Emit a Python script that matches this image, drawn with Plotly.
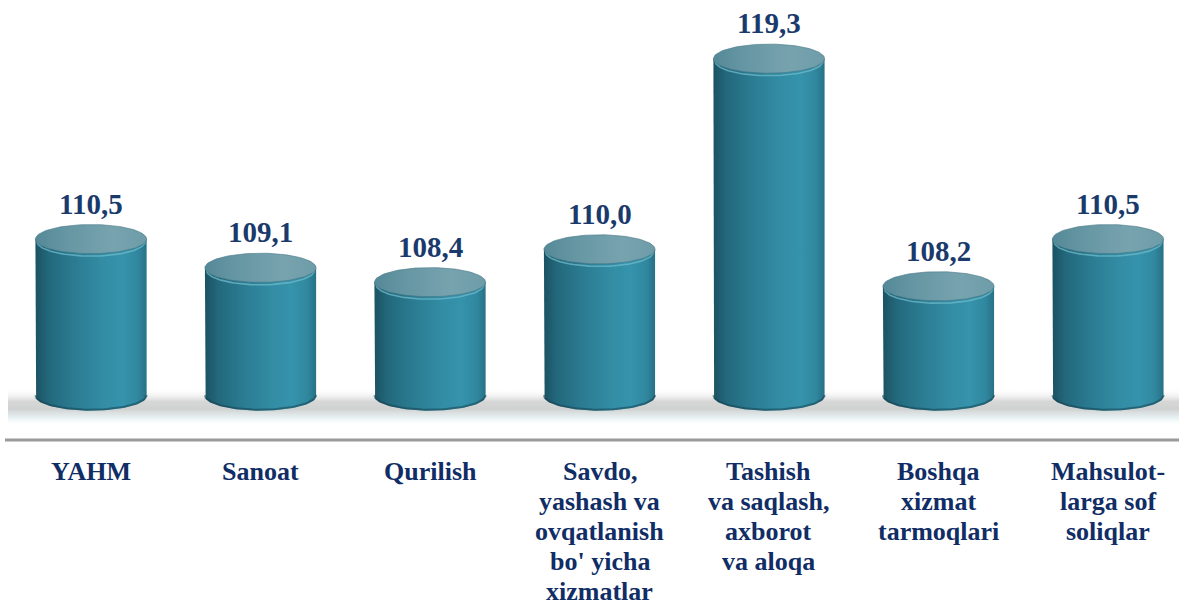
import numpy as np
import plotly.graph_objects as go

# ---------------- data ----------------
categories = [
    "YAHM",
    "Sanoat",
    "Qurilish",
    "Savdo,<br>yashash va<br>ovqatlanish<br>bo' yicha<br>xizmatlar",
    "Tashish<br>va saqlash,<br>axborot<br>va aloqa",
    "Boshqa<br>xizmat<br>tarmoqlari",
    "Mahsulot-<br>larga sof<br>soliqlar",
]
values = [110.5, 109.1, 108.4, 110.0, 119.3, 108.2, 110.5]
value_labels = ["110,5", "109,1", "108,4", "110,0", "119,3", "108,2", "110,5"]

# ---------------- geometry / style ----------------
W, H = 1179, 605
PLOT_H = 440
Y_RANGE = [100.7, 122.16]
X_RANGE = [-0.537, 6.419]
BASE = 102.84          # level of the cylinder bottoms
R = 0.328              # cylinder half width (x units)
HH = 0.71              # ellipse half height (y units)
PX_Y = PLOT_H / (Y_RANGE[1] - Y_RANGE[0])

FONT = "Liberation Serif"
NAVY = "#1a3a6c"
LABEL_NAVY = "#102d66"
LABEL_SIZE = 26
LINE_GAP = 30          # px between label lines
LABEL_TOP = 15         # px below the axis line to first line box top

body_scale = [
    [0.0, "#1b5263"], [0.12, "#23687c"], [0.35, "#2b7c92"],
    [0.6, "#328ca4"], [0.78, "#3593ab"], [0.92, "#30889f"], [1.0, "#287186"],
]
top_scale = [
    [0.0, "#558997"], [0.3, "#6797a4"], [0.7, "#77a3ae"], [1.0, "#6d9ca8"],
]

fig = go.Figure()

# floor shadow band
sh_top = BASE + 8 / PX_Y
sh_bot = BASE - 30 / PX_Y
fig.add_trace(go.Scatter(
    x=[-0.49, X_RANGE[1] + 0.1, X_RANGE[1] + 0.1, -0.49, -0.49],
    y=[sh_top, sh_top, sh_bot, sh_bot, sh_top],
    mode="lines", line=dict(width=0), fill="toself",
    fillgradient=dict(type="vertical", colorscale=[
        [0.0, "rgba(255,255,255,0)"], [0.2, "rgba(232,242,244,0.9)"],
        [0.45, "rgba(205,207,207,0.95)"], [0.65, "rgba(210,210,210,0.9)"],
        [1.0, "rgba(255,255,255,0)"]]),
    hoverinfo="skip", showlegend=False,
))

t_bot = np.linspace(np.pi, 2 * np.pi, 60)
t_full = np.linspace(0, 2 * np.pi, 120)

for i, v in enumerate(values):
    c = i
    # body
    bx = [c - R] + list(c + R * np.cos(t_bot)) + [c + R, c - R]
    by = [v] + list(BASE + HH * np.sin(t_bot)) + [v, v]
    fig.add_trace(go.Scatter(
        x=bx, y=by, mode="lines", line=dict(width=0), fill="toself",
        fillgradient=dict(type="horizontal", colorscale=body_scale),
        hoverinfo="skip", showlegend=False,
    ))
    # bottom rim
    fig.add_trace(go.Scatter(
        x=c + R * np.cos(t_bot), y=BASE + HH * np.sin(t_bot) + 1 / PX_Y,
        mode="lines", line=dict(width=2, color="rgba(22,66,80,0.55)"),
        hoverinfo="skip", showlegend=False,
    ))
    # rim highlight under top face
    fig.add_trace(go.Scatter(
        x=c + R * 0.97 * np.cos(t_bot), y=v + HH * np.sin(t_bot) - 2.5 / PX_Y,
        mode="lines", line=dict(width=1.6, color="rgba(110,185,202,0.75)"),
        hoverinfo="skip", showlegend=False,
    ))
    # top face
    fig.add_trace(go.Scatter(
        x=c + R * np.cos(t_full), y=v + HH * np.sin(t_full),
        mode="lines", line=dict(width=1, color="rgba(70,120,135,0.6)"),
        fill="toself",
        fillgradient=dict(type="horizontal", colorscale=top_scale),
        hoverinfo="skip", showlegend=False,
    ))
    fig.add_annotation(
        x=c, y=v + HH, text=value_labels[i], showarrow=False,
        yanchor="bottom", yshift=3,
        font=dict(family=FONT, size=29, color=NAVY, weight="bold"),
    )
    # category label, one annotation per line
    for k, line in enumerate(categories[i].split("<br>")):
        fig.add_annotation(
            x=c, xref="x", y=0, yref="paper", yanchor="top",
            yshift=-(LABEL_TOP + k * LINE_GAP), text=line, showarrow=False,
            font=dict(family=FONT, size=LABEL_SIZE, color=LABEL_NAVY, weight="bold"),
        )

fig.add_shape(type="line", xref="paper", yref="paper",
              x0=5 / W, x1=1, y0=0, y1=0,
              line=dict(color="#9a9a9a", width=3))

fig.update_layout(
    width=W, height=H,
    margin=dict(l=0, r=0, t=0, b=H - PLOT_H),
    paper_bgcolor="white", plot_bgcolor="white",
    xaxis=dict(range=X_RANGE, tickvals=list(range(len(categories))),
               ticktext=[""] * len(categories), showgrid=False, zeroline=False,
               showline=False, ticks=""),
    yaxis=dict(range=Y_RANGE, visible=False, showgrid=False, zeroline=False),
    showlegend=False,
)

fig.write_html("out.html")
